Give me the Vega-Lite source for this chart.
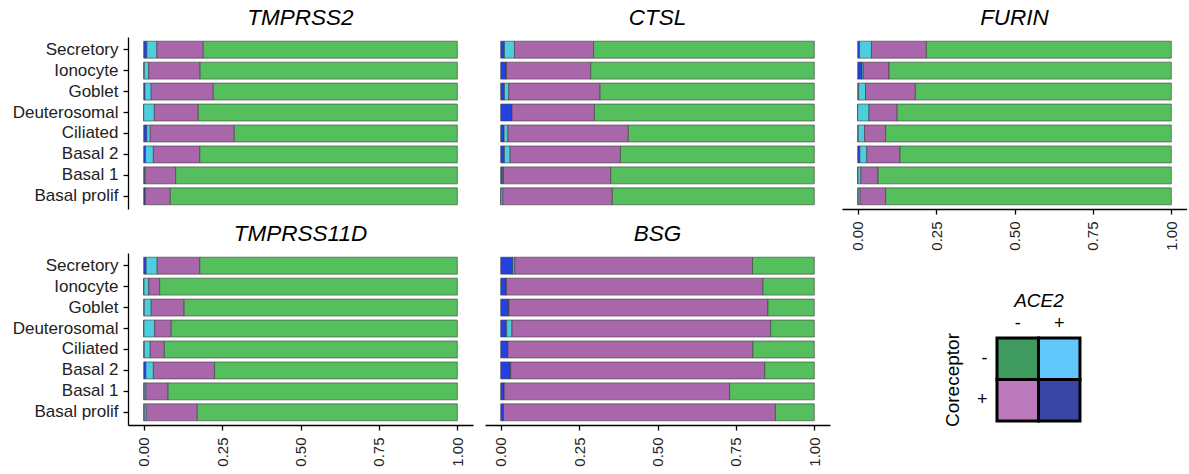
{
  "$schema": "https://vega.github.io/schema/vega-lite/v6.json",
  "padding": {"left": 12, "top": 6, "right": 0, "bottom": 0},
  "background": "#ffffff",
  "config": {
    "view": {"stroke": null},
    "font": "Liberation Sans",
    "title": {"font": "Liberation Sans", "fontSize": 22.5, "fontStyle": "italic", "fontWeight": "normal", "color": "#000000", "anchor": "middle", "frame": "group", "offset": 8},
    "axis": {"grid": false, "domainColor": "#000000", "tickColor": "#000000", "domainWidth": 1.3, "tickWidth": 1.3, "tickSize": 5, "labelColor": "#222222", "labelFont": "Liberation Sans", "titleFont": "Liberation Sans", "titleColor": "#000000"}
  },
  "datasets": {
    "cells": [
      {"gene": "TMPRSS2", "cell": "Secretory", "pp": 0.010, "pm": 0.032, "mp": 0.148, "mm": 0.810},
      {"gene": "TMPRSS2", "cell": "Ionocyte", "pp": 0.002, "pm": 0.014, "mp": 0.164, "mm": 0.820},
      {"gene": "TMPRSS2", "cell": "Goblet", "pp": 0.004, "pm": 0.020, "mp": 0.198, "mm": 0.778},
      {"gene": "TMPRSS2", "cell": "Deuterosomal", "pp": 0.000, "pm": 0.034, "mp": 0.140, "mm": 0.826},
      {"gene": "TMPRSS2", "cell": "Ciliated", "pp": 0.010, "pm": 0.011, "mp": 0.268, "mm": 0.711},
      {"gene": "TMPRSS2", "cell": "Basal 2", "pp": 0.006, "pm": 0.025, "mp": 0.148, "mm": 0.821},
      {"gene": "TMPRSS2", "cell": "Basal 1", "pp": 0.003, "pm": 0.002, "mp": 0.097, "mm": 0.898},
      {"gene": "TMPRSS2", "cell": "Basal prolif", "pp": 0.004, "pm": 0.001, "mp": 0.080, "mm": 0.915},

      {"gene": "CTSL", "cell": "Secretory", "pp": 0.012, "pm": 0.032, "mp": 0.252, "mm": 0.704},
      {"gene": "CTSL", "cell": "Ionocyte", "pp": 0.018, "pm": 0.000, "mp": 0.269, "mm": 0.713},
      {"gene": "CTSL", "cell": "Goblet", "pp": 0.012, "pm": 0.014, "mp": 0.291, "mm": 0.683},
      {"gene": "CTSL", "cell": "Deuterosomal", "pp": 0.036, "pm": 0.000, "mp": 0.263, "mm": 0.701},
      {"gene": "CTSL", "cell": "Ciliated", "pp": 0.011, "pm": 0.012, "mp": 0.384, "mm": 0.593},
      {"gene": "CTSL", "cell": "Basal 2", "pp": 0.012, "pm": 0.018, "mp": 0.352, "mm": 0.618},
      {"gene": "CTSL", "cell": "Basal 1", "pp": 0.006, "pm": 0.003, "mp": 0.342, "mm": 0.649},
      {"gene": "CTSL", "cell": "Basal prolif", "pp": 0.001, "pm": 0.006, "mp": 0.349, "mm": 0.644},

      {"gene": "FURIN", "cell": "Secretory", "pp": 0.006, "pm": 0.038, "mp": 0.175, "mm": 0.781},
      {"gene": "FURIN", "cell": "Ionocyte", "pp": 0.014, "pm": 0.004, "mp": 0.082, "mm": 0.900},
      {"gene": "FURIN", "cell": "Goblet", "pp": 0.003, "pm": 0.022, "mp": 0.159, "mm": 0.816},
      {"gene": "FURIN", "cell": "Deuterosomal", "pp": 0.000, "pm": 0.036, "mp": 0.090, "mm": 0.874},
      {"gene": "FURIN", "cell": "Ciliated", "pp": 0.002, "pm": 0.020, "mp": 0.067, "mm": 0.911},
      {"gene": "FURIN", "cell": "Basal 2", "pp": 0.007, "pm": 0.022, "mp": 0.106, "mm": 0.865},
      {"gene": "FURIN", "cell": "Basal 1", "pp": 0.001, "pm": 0.009, "mp": 0.055, "mm": 0.935},
      {"gene": "FURIN", "cell": "Basal prolif", "pp": 0.002, "pm": 0.006, "mp": 0.081, "mm": 0.911},

      {"gene": "TMPRSS11D", "cell": "Secretory", "pp": 0.008, "pm": 0.035, "mp": 0.136, "mm": 0.821},
      {"gene": "TMPRSS11D", "cell": "Ionocyte", "pp": 0.001, "pm": 0.015, "mp": 0.035, "mm": 0.949},
      {"gene": "TMPRSS11D", "cell": "Goblet", "pp": 0.002, "pm": 0.022, "mp": 0.105, "mm": 0.871},
      {"gene": "TMPRSS11D", "cell": "Deuterosomal", "pp": 0.001, "pm": 0.034, "mp": 0.053, "mm": 0.912},
      {"gene": "TMPRSS11D", "cell": "Ciliated", "pp": 0.002, "pm": 0.019, "mp": 0.045, "mm": 0.934},
      {"gene": "TMPRSS11D", "cell": "Basal 2", "pp": 0.007, "pm": 0.024, "mp": 0.195, "mm": 0.774},
      {"gene": "TMPRSS11D", "cell": "Basal 1", "pp": 0.002, "pm": 0.005, "mp": 0.071, "mm": 0.922},
      {"gene": "TMPRSS11D", "cell": "Basal prolif", "pp": 0.002, "pm": 0.006, "mp": 0.163, "mm": 0.829},

      {"gene": "BSG", "cell": "Secretory", "pp": 0.039, "pm": 0.006, "mp": 0.758, "mm": 0.197},
      {"gene": "BSG", "cell": "Ionocyte", "pp": 0.018, "pm": 0.000, "mp": 0.818, "mm": 0.164},
      {"gene": "BSG", "cell": "Goblet", "pp": 0.026, "pm": 0.000, "mp": 0.826, "mm": 0.148},
      {"gene": "BSG", "cell": "Deuterosomal", "pp": 0.019, "pm": 0.017, "mp": 0.825, "mm": 0.139},
      {"gene": "BSG", "cell": "Ciliated", "pp": 0.023, "pm": 0.000, "mp": 0.781, "mm": 0.196},
      {"gene": "BSG", "cell": "Basal 2", "pp": 0.030, "pm": 0.002, "mp": 0.810, "mm": 0.158},
      {"gene": "BSG", "cell": "Basal 1", "pp": 0.011, "pm": 0.000, "mp": 0.719, "mm": 0.270},
      {"gene": "BSG", "cell": "Basal prolif", "pp": 0.009, "pm": 0.000, "mp": 0.867, "mm": 0.124}
    ],
    "key": [
      {"ace2": "-", "coreceptor": "-", "group": "mm"},
      {"ace2": "+", "coreceptor": "-", "group": "pm"},
      {"ace2": "-", "coreceptor": "+", "group": "mp"},
      {"ace2": "+", "coreceptor": "+", "group": "pp"}
    ]
  },
  "spacing": 12,
  "hconcat": [
    {
      "spacing": 13,
      "vconcat": [
        {
          "title": "TMPRSS2",
          "width": 345, "height": 172,
          "data": {"name": "cells"},
          "transform": [{"filter": "datum.gene === 'TMPRSS2'"}, {"fold": ["pp", "pm", "mp", "mm"], "as": ["group", "share"]}],
          "mark": {"type": "bar", "stroke": "#3c3c3c", "strokeWidth": 0.6},
          "encoding": {
            "y": {"field": "cell", "type": "nominal", "sort": ["Secretory", "Ionocyte", "Goblet", "Deuterosomal", "Ciliated", "Basal 2", "Basal 1", "Basal prolif"], "scale": {"paddingInner": 0.19, "paddingOuter": 0.2}, "axis": {"title": null, "labelFontSize": 17, "labelPadding": 5}},
            "x": {"field": "share", "type": "quantitative", "stack": "zero", "scale": {"domain": [-0.05, 1.05], "nice": false, "zero": false}, "axis": null},
            "color": {"field": "group", "type": "nominal", "scale": {"domain": ["pp", "pm", "mp", "mm"], "range": ["#2341e1", "#4dcdde", "#a966aa", "#55be5d"]}, "legend": null},
            "order": {"field": "group", "sort": "descending"}
          }
        },
        {
          "title": "TMPRSS11D",
          "width": 345, "height": 172,
          "data": {"name": "cells"},
          "transform": [{"filter": "datum.gene === 'TMPRSS11D'"}, {"fold": ["pp", "pm", "mp", "mm"], "as": ["group", "share"]}],
          "mark": {"type": "bar", "stroke": "#3c3c3c", "strokeWidth": 0.6},
          "encoding": {
            "y": {"field": "cell", "type": "nominal", "sort": ["Secretory", "Ionocyte", "Goblet", "Deuterosomal", "Ciliated", "Basal 2", "Basal 1", "Basal prolif"], "scale": {"paddingInner": 0.19, "paddingOuter": 0.2}, "axis": {"title": null, "labelFontSize": 17, "labelPadding": 5}},
            "x": {"field": "share", "type": "quantitative", "stack": "zero", "scale": {"domain": [-0.05, 1.05], "nice": false, "zero": false}, "axis": {"title": null, "values": [0, 0.25, 0.5, 0.75, 1], "format": ".2f", "labelAngle": 270, "labelFontSize": 15, "labelPadding": 7}},
            "color": {"field": "group", "type": "nominal", "scale": {"domain": ["pp", "pm", "mp", "mm"], "range": ["#2341e1", "#4dcdde", "#a966aa", "#55be5d"]}, "legend": null},
            "order": {"field": "group", "sort": "descending"}
          }
        }
      ]
    },
    {
      "spacing": 13,
      "vconcat": [
        {
          "title": "CTSL",
          "width": 345, "height": 172,
          "data": {"name": "cells"},
          "transform": [{"filter": "datum.gene === 'CTSL'"}, {"fold": ["pp", "pm", "mp", "mm"], "as": ["group", "share"]}],
          "mark": {"type": "bar", "stroke": "#3c3c3c", "strokeWidth": 0.6},
          "encoding": {
            "y": {"field": "cell", "type": "nominal", "sort": ["Secretory", "Ionocyte", "Goblet", "Deuterosomal", "Ciliated", "Basal 2", "Basal 1", "Basal prolif"], "scale": {"paddingInner": 0.19, "paddingOuter": 0.2}, "axis": null},
            "x": {"field": "share", "type": "quantitative", "stack": "zero", "scale": {"domain": [-0.05, 1.05], "nice": false, "zero": false}, "axis": null},
            "color": {"field": "group", "type": "nominal", "scale": {"domain": ["pp", "pm", "mp", "mm"], "range": ["#2341e1", "#4dcdde", "#a966aa", "#55be5d"]}, "legend": null},
            "order": {"field": "group", "sort": "descending"}
          }
        },
        {
          "title": "BSG",
          "width": 345, "height": 172,
          "data": {"name": "cells"},
          "transform": [{"filter": "datum.gene === 'BSG'"}, {"fold": ["pp", "pm", "mp", "mm"], "as": ["group", "share"]}],
          "mark": {"type": "bar", "stroke": "#3c3c3c", "strokeWidth": 0.6},
          "encoding": {
            "y": {"field": "cell", "type": "nominal", "sort": ["Secretory", "Ionocyte", "Goblet", "Deuterosomal", "Ciliated", "Basal 2", "Basal 1", "Basal prolif"], "scale": {"paddingInner": 0.19, "paddingOuter": 0.2}, "axis": null},
            "x": {"field": "share", "type": "quantitative", "stack": "zero", "scale": {"domain": [-0.05, 1.05], "nice": false, "zero": false}, "axis": {"title": null, "values": [0, 0.25, 0.5, 0.75, 1], "format": ".2f", "labelAngle": 270, "labelFontSize": 15, "labelPadding": 7}},
            "color": {"field": "group", "type": "nominal", "scale": {"domain": ["pp", "pm", "mp", "mm"], "range": ["#2341e1", "#4dcdde", "#a966aa", "#55be5d"]}, "legend": null},
            "order": {"field": "group", "sort": "descending"}
          }
        }
      ]
    },
    {
      "spacing": 40,
      "center": true,
      "vconcat": [
        {
          "title": "FURIN",
          "width": 345, "height": 172,
          "data": {"name": "cells"},
          "transform": [{"filter": "datum.gene === 'FURIN'"}, {"fold": ["pp", "pm", "mp", "mm"], "as": ["group", "share"]}],
          "mark": {"type": "bar", "stroke": "#3c3c3c", "strokeWidth": 0.6},
          "encoding": {
            "y": {"field": "cell", "type": "nominal", "sort": ["Secretory", "Ionocyte", "Goblet", "Deuterosomal", "Ciliated", "Basal 2", "Basal 1", "Basal prolif"], "scale": {"paddingInner": 0.19, "paddingOuter": 0.2}, "axis": null},
            "x": {"field": "share", "type": "quantitative", "stack": "zero", "scale": {"domain": [-0.05, 1.05], "nice": false, "zero": false}, "axis": {"title": null, "values": [0, 0.25, 0.5, 0.75, 1], "format": ".2f", "labelAngle": 270, "labelFontSize": 15, "labelPadding": 7}},
            "color": {"field": "group", "type": "nominal", "scale": {"domain": ["pp", "pm", "mp", "mm"], "range": ["#2341e1", "#4dcdde", "#a966aa", "#55be5d"]}, "legend": null},
            "order": {"field": "group", "sort": "descending"}
          }
        },
        {
          "width": 166, "height": 83,
          "data": {"name": "key"},
          "mark": {"type": "rect", "stroke": "#000000", "strokeWidth": 3},
          "encoding": {
            "x": {"field": "ace2", "type": "nominal", "sort": ["-", "+"], "scale": {"paddingInner": 0, "paddingOuter": 1, "align": 0.789}, "axis": {"orient": "top", "title": "ACE2", "titleFontSize": 19, "titleFontStyle": "italic", "titleFontWeight": "normal", "titlePadding": 4, "titleX": 107, "labelFontSize": 18, "labelColor": "#000000", "labelAngle": 0, "labelPadding": 6, "ticks": false, "domain": false}},
            "y": {"field": "coreceptor", "type": "nominal", "sort": ["-", "+"], "scale": {"paddingInner": 0, "paddingOuter": 0}, "axis": {"offset": -65.5, "title": "Coreceptor", "titleFontSize": 19, "titleFontWeight": "normal", "titlePadding": 14, "labelFontSize": 18, "labelColor": "#000000", "labelPadding": 10, "ticks": false, "domain": false}},
            "fill": {"field": "group", "type": "nominal", "scale": {"domain": ["mm", "pm", "mp", "pp"], "range": ["#3f9a60", "#62c8fb", "#bc79bc", "#3a46a3"]}, "legend": null}
          }
        }
      ]
    }
  ]
}
